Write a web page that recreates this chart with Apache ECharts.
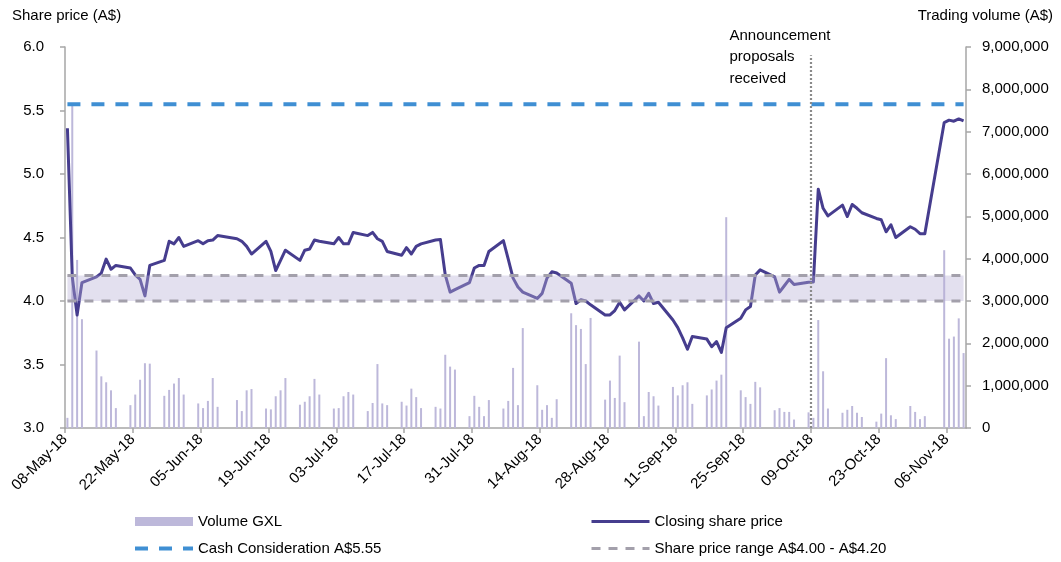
<!DOCTYPE html>
<html>
<head>
<meta charset="utf-8">
<script src="https://cdn.jsdelivr.net/npm/echarts@6/dist/echarts.min.js"></script>
<style>
  html, body { margin: 0; padding: 0; background: #ffffff; }
  #chart { width: 1061px; height: 562px; }
</style>
</head>
<body>
<div id="chart"></div>
<script>
// GXL trading history, 8 May 2018 - 9 Nov 2018
const tradeDates = [
  '2018-05-08','2018-05-09','2018-05-10','2018-05-11',
  '2018-05-14','2018-05-15','2018-05-16','2018-05-17','2018-05-18',
  '2018-05-21','2018-05-22','2018-05-23','2018-05-24','2018-05-25',
  '2018-05-28','2018-05-29','2018-05-30','2018-05-31','2018-06-01',
  '2018-06-04','2018-06-05','2018-06-06','2018-06-07','2018-06-08',
  '2018-06-12','2018-06-13','2018-06-14','2018-06-15',
  '2018-06-18','2018-06-19','2018-06-20','2018-06-21','2018-06-22',
  '2018-06-25','2018-06-26','2018-06-27','2018-06-28','2018-06-29',
  '2018-07-02','2018-07-03','2018-07-04','2018-07-05','2018-07-06',
  '2018-07-09','2018-07-10','2018-07-11','2018-07-12','2018-07-13',
  '2018-07-16','2018-07-17','2018-07-18','2018-07-19','2018-07-20',
  '2018-07-23','2018-07-24','2018-07-25','2018-07-26','2018-07-27',
  '2018-07-30','2018-07-31','2018-08-01','2018-08-02','2018-08-03',
  '2018-08-06','2018-08-07','2018-08-08','2018-08-09','2018-08-10',
  '2018-08-13','2018-08-14','2018-08-15','2018-08-16','2018-08-17',
  '2018-08-20','2018-08-21','2018-08-22','2018-08-23','2018-08-24',
  '2018-08-27','2018-08-28','2018-08-29','2018-08-30','2018-08-31',
  '2018-09-03','2018-09-04','2018-09-05','2018-09-06','2018-09-07',
  '2018-09-10','2018-09-11','2018-09-12','2018-09-13','2018-09-14',
  '2018-09-17','2018-09-18','2018-09-19','2018-09-20','2018-09-21',
  '2018-09-24','2018-09-25','2018-09-26','2018-09-27','2018-09-28',
  '2018-10-01','2018-10-02','2018-10-03','2018-10-04','2018-10-05',
  '2018-10-08','2018-10-09','2018-10-10','2018-10-11','2018-10-12',
  '2018-10-15','2018-10-16','2018-10-17','2018-10-18','2018-10-19',
  '2018-10-22','2018-10-23','2018-10-24','2018-10-25','2018-10-26',
  '2018-10-29','2018-10-30','2018-10-31','2018-11-01',
  '2018-11-05','2018-11-06','2018-11-07','2018-11-08','2018-11-09'
];

// Closing share price (A$)
const closePrice = [
  5.36, 4.19, 3.89, 4.145,
  4.19, 4.22, 4.33, 4.25, 4.28,
  4.26, 4.205, 4.17, 4.04, 4.28,
  4.32, 4.47, 4.45, 4.50, 4.43,
  4.475, 4.45, 4.475, 4.48, 4.515,
  4.49, 4.47, 4.43, 4.37,
  4.47, 4.39, 4.24, 4.32, 4.40,
  4.32, 4.40, 4.41, 4.48, 4.47,
  4.45, 4.50, 4.45, 4.45, 4.54,
  4.515, 4.54, 4.49, 4.47, 4.39,
  4.36, 4.42, 4.37, 4.43, 4.45,
  4.48, 4.485, 4.205, 4.07, 4.09,
  4.145, 4.26, 4.28, 4.28, 4.39,
  4.475, 4.33, 4.18, 4.11, 4.07,
  4.02, 4.06, 4.18, 4.23, 4.22,
  4.14, 3.98, 4.01, 4.00, 3.97,
  3.89, 3.89, 3.925, 3.99, 3.93,
  4.04, 4.00, 4.06, 3.98, 3.99,
  3.85, 3.79, 3.71, 3.62, 3.72,
  3.70, 3.64, 3.68, 3.595, 3.79,
  3.865, 3.93, 3.957, 4.205, 4.245,
  4.19, 4.07, 4.12, 4.17, 4.13,
  4.148, 4.15, 4.88, 4.73, 4.67,
  4.755, 4.665, 4.76, 4.73, 4.695,
  4.65, 4.64, 4.545, 4.60, 4.50,
  4.585, 4.565, 4.53, 4.53,
  5.405, 5.424, 5.416, 5.434, 5.418
];

// Daily trading volume
const volume = [
  240000, 7650000, 3970000, 2570000,
  1830000, 1220000, 1080000, 890000, 470000,
  540000, 790000, 1140000, 1530000, 1520000,
  760000, 900000, 1050000, 1180000, 790000,
  580000, 470000, 640000, 1180000, 500000,
  660000, 400000, 890000, 920000,
  460000, 440000, 750000, 890000, 1180000,
  550000, 620000, 750000, 1160000, 790000,
  460000, 470000, 750000, 850000, 790000,
  400000, 590000, 1510000, 580000, 540000,
  620000, 530000, 930000, 730000, 470000,
  500000, 460000, 1730000, 1450000, 1380000,
  280000, 760000, 500000, 280000, 660000,
  460000, 640000, 1420000, 540000, 2360000,
  1010000, 430000, 540000, 240000, 680000,
  2710000, 2430000, 2340000, 1510000, 2600000,
  670000, 1120000, 710000, 1710000, 610000,
  2040000, 280000, 850000, 750000, 530000,
  970000, 770000, 1010000, 1080000, 570000,
  770000, 910000, 1120000, 1260000, 4980000,
  890000, 730000, 570000, 1090000, 960000,
  420000, 470000, 380000, 380000, 200000,
  370000, 240000, 2550000, 1340000, 460000,
  360000, 430000, 520000, 360000, 260000,
  150000, 340000, 1650000, 300000, 210000,
  520000, 380000, 210000, 280000,
  4200000, 2110000, 2160000, 2590000, 1770000
];

// Reference levels and event
const cashConsideration = 5.55;
const rangeLow = 4.00;
const rangeHigh = 4.20;
const announcementDate = '2018-10-09';
const announcementText = ['Announcement', 'proposals', 'received'];

// Axis settings
const axisStartDate = '2018-05-08';
const axisEndDate = '2018-11-10';
const dateTickDays = 14;
const priceTicks = { min: 3.0, max: 6.0, step: 0.5 };
const volumeTicks = { min: 0, max: 9000000, step: 1000000 };

const DAY = 86400000;
const MONTHS = ['Jan','Feb','Mar','Apr','May','Jun','Jul','Aug','Sep','Oct','Nov','Dec'];
const t0 = Date.parse(axisStartDate + 'T00:00:00Z');
const dayOf = s => (Date.parse(s + 'T00:00:00Z') - t0) / DAY;
const pad2 = n => (n < 10 ? '0' : '') + n;
function dateLabel(v) {
  const d = new Date(t0 + Math.round(v) * DAY);
  return pad2(d.getUTCDate()) + '-' + MONTHS[d.getUTCMonth()] + '-' + String(d.getUTCFullYear()).slice(2);
}

// each trading day sits in the middle of its calendar slot
const xs = tradeDates.map(s => dayOf(s) + 0.5);
const priceData = xs.map((x, i) => [x, closePrice[i]]);
const volumeData = xs.map((x, i) => [x, volume[i]]);
const xFirst = xs[0];
const xLast = xs[xs.length - 1];
const announceX = dayOf(announcementDate);

const FONT = "'Liberation Sans', Arial, sans-serif";
const AXIS_GREY = '#a6a6a6';
const RANGE_NAME = 'Share price range A$4.00 - A$4.20';
const CASH_NAME = 'Cash Consideration A$5.55';
// legend entries for line series: plain line, no marker
const noMarker = { color: 'rgba(0,0,0,0)', opacity: 0, borderWidth: 0 };

const chart = echarts.init(document.getElementById('chart'), null, { renderer: 'canvas' });

chart.setOption({
  animation: false,
  backgroundColor: '#ffffff',
  textStyle: { fontFamily: FONT, color: '#000' },
  title: [
    { text: 'Share price (A$)', left: 7, top: 3,
      textStyle: { fontFamily: FONT, fontSize: 15, fontWeight: 'normal', color: '#000' } },
    { text: 'Trading volume (A$)', right: 3, top: 3,
      textStyle: { fontFamily: FONT, fontSize: 15, fontWeight: 'normal', color: '#000' } }
  ],
  grid: { left: 65, right: 95, top: 47, bottom: 134, containLabel: false, outerBoundsMode: 'none' },
  xAxis: {
    type: 'value',
    min: 0,
    max: dayOf(axisEndDate),
    interval: dateTickDays,
    splitLine: { show: false },
    axisLine: { show: true, lineStyle: { color: AXIS_GREY, width: 1.5 } },
    axisTick: { show: true, inside: false, length: 5, lineStyle: { color: AXIS_GREY, width: 1.5 } },
    axisLabel: {
      rotate: 45, margin: 9, fontSize: 15, fontFamily: FONT, color: '#000',
      showMaxLabel: false, showMinLabel: true, hideOverlap: false,
      formatter: v => (v % dateTickDays === 0 ? dateLabel(v) : '')
    }
  },
  yAxis: [
    {
      type: 'value', position: 'left',
      min: priceTicks.min, max: priceTicks.max, interval: priceTicks.step,
      splitLine: { show: false },
      axisLine: { show: true, lineStyle: { color: AXIS_GREY, width: 1.5 } },
      axisTick: { show: true, inside: false, length: 5, lineStyle: { color: AXIS_GREY, width: 1.5 } },
      axisLabel: { margin: 21, fontSize: 15, fontFamily: FONT, color: '#000', formatter: v => v.toFixed(1) }
    },
    {
      type: 'value', position: 'right',
      min: volumeTicks.min, max: volumeTicks.max, interval: volumeTicks.step,
      splitLine: { show: false },
      axisLine: { show: true, lineStyle: { color: AXIS_GREY, width: 1.5 } },
      axisTick: { show: true, inside: false, length: 5, lineStyle: { color: AXIS_GREY, width: 1.5 } },
      axisLabel: { margin: 16, fontSize: 15, fontFamily: FONT, color: '#000',
        formatter: v => Math.round(v).toLocaleString('en-US') }
    }
  ],
  legend: [
    {
      left: 133, top: 514, orient: 'vertical', itemGap: 12, itemWidth: 58, itemHeight: 9,
      selectedMode: false, padding: 0,
      textStyle: { fontSize: 15, fontFamily: FONT, color: '#000' },
      lineStyle: { width: 'inherit', type: 'inherit' },
      data: [
        { name: 'Volume GXL', icon: 'rect' },
        { name: CASH_NAME, itemStyle: noMarker }
      ]
    },
    {
      left: 590, top: 514, orient: 'vertical', itemGap: 12, itemWidth: 58, itemHeight: 9,
      selectedMode: false, padding: 0,
      textStyle: { fontSize: 15, fontFamily: FONT, color: '#000' },
      lineStyle: { width: 'inherit', type: 'inherit' },
      data: [
        { name: 'Closing share price', itemStyle: noMarker },
        { name: RANGE_NAME, itemStyle: noMarker }
      ]
    }
  ],
  series: [
    {
      name: 'Volume GXL', type: 'bar', yAxisIndex: 1,
      data: volumeData, barWidth: 2, z: 2,
      itemStyle: { color: '#bdb8da' }
    },
    {
      name: 'Closing share price', type: 'line', yAxisIndex: 0,
      data: priceData, symbol: 'none', z: 3,
      lineStyle: { color: '#463d8e', width: 3, join: 'round' },
      itemStyle: { color: '#463d8e' }
    },
    {
      name: RANGE_NAME, type: 'line', yAxisIndex: 0,
      data: [[xFirst, rangeLow], [xLast, rangeLow]], symbol: 'none', z: 6,
      lineStyle: { color: '#a3a0ab', width: 3, type: [9, 8] },
      itemStyle: { color: '#a3a0ab' },
      markArea: {
        silent: true, z: 4,
        itemStyle: { color: 'rgba(181,174,212,0.38)' },
        data: [[{ coord: [xFirst, rangeLow] }, { coord: [xLast, rangeHigh] }]]
      }
    },
    {
      name: RANGE_NAME, type: 'line', yAxisIndex: 0,
      data: [[xFirst, rangeHigh], [xLast, rangeHigh]], symbol: 'none', z: 6,
      lineStyle: { color: '#a3a0ab', width: 3, type: [9, 8] },
      itemStyle: { color: '#a3a0ab' }
    },
    {
      name: CASH_NAME, type: 'line', yAxisIndex: 0,
      data: [[xFirst, cashConsideration], [xLast, cashConsideration]], symbol: 'none', z: 6,
      lineStyle: { color: '#3f8fd3', width: 4, type: [13, 11] },
      itemStyle: { color: '#3f8fd3' }
    },
    {
      name: 'Announcement', type: 'line', yAxisIndex: 0,
      data: [[announceX, priceTicks.min], [announceX, 5.935]], symbol: 'none', z: 7,
      lineStyle: { color: '#8a8a8a', width: 2.2, type: [2, 2] },
      markPoint: {
        silent: true,
        symbol: 'circle', symbolSize: 1,
        itemStyle: { color: 'rgba(0,0,0,0)' },
        label: {
          show: true, position: [-81, -30], align: 'left', verticalAlign: 'top',
          fontSize: 15, fontFamily: FONT, lineHeight: 21.5, color: '#000',
          formatter: announcementText.join('\n')
        },
        data: [{ coord: [announceX, 5.935] }]
      }
    }
  ]
});
</script>
</body>
</html>
